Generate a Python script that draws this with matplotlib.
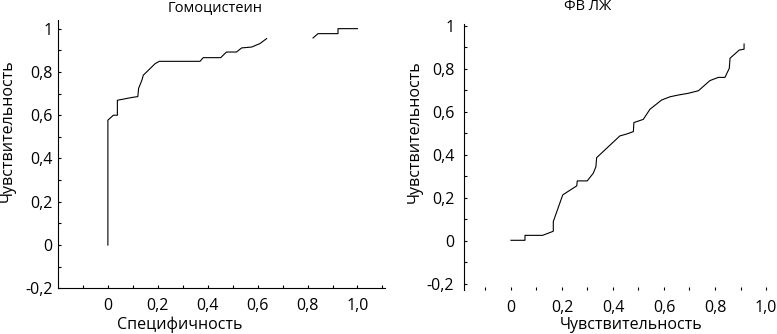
import numpy as np
import matplotlib.pyplot as plt

plt.rcParams["font.family"] = ["Open Sans", "DejaVu Sans"]

# Гомоцистеин (gap in the curve as on the original)
homo_x = [0, 0, 0.022, 0.038, 0.038, 0.096, 0.12, 0.123, 0.136, 0.142, 0.189, 0.206, 0.369, 0.382,
          0.452, 0.475, 0.515, 0.536, 0.576, 0.609, 0.636, np.nan, 0.822, 0.842, 0.922, 0.922, 1.0]
homo_y = [0, 0.577, 0.6, 0.6, 0.669, 0.682, 0.686, 0.724, 0.761, 0.785, 0.838, 0.849, 0.849, 0.866,
          0.866, 0.892, 0.892, 0.911, 0.915, 0.931, 0.954, np.nan, 0.957, 0.977, 0.977, 1.0, 1.0]

# ФВ ЛЖ
fv_x = [0, 0.055, 0.055, 0.124, 0.166, 0.166, 0.203, 0.258, 0.26, 0.299, 0.323, 0.333, 0.336, 0.427,
        0.454, 0.48, 0.482, 0.519, 0.545, 0.591, 0.624, 0.656, 0.695, 0.735, 0.78, 0.813, 0.839,
        0.856, 0.859, 0.878, 0.895, 0.914, 0.914]
fv_y = [0.003, 0.003, 0.026, 0.026, 0.045, 0.09, 0.214, 0.256, 0.279, 0.279, 0.315, 0.345, 0.387, 0.488,
        0.497, 0.508, 0.55, 0.565, 0.612, 0.655, 0.67, 0.678, 0.686, 0.698, 0.745, 0.76, 0.76,
        0.802, 0.849, 0.869, 0.887, 0.891, 0.915]

y_ticks = [-0.2, 0, 0.2, 0.4, 0.6, 0.8, 1.0]
y_tick_labels = ["-0,2", "0", "0,2", "0,4", "0,6", "0,8", "1"]
y_minor = [-0.1, 0.1, 0.3, 0.5, 0.7, 0.9]
x_ticks = [0, 0.2, 0.4, 0.6, 0.8, 1.0]
x_tick_labels = ["0", "0,2", "0,4", "0,6", "0,8", "1,0"]

fig = plt.figure(figsize=(7.77, 3.34), dpi=100)
ax1 = fig.add_axes([0.0746, 0.1368, 0.4208, 0.8033])
ax2 = fig.add_axes([0.5972, 0.1317, 0.3985, 0.7964])

ax1.plot(homo_x, homo_y, color="black", lw=0.8)
ax1.set_xlim(-0.2, 1.11)
ax1.set_ylim(-0.2, 1.04)
ax1.set_xticks(x_ticks, labels=x_tick_labels)
ax1.set_xticks([-0.1, 0.1, 0.3, 0.5, 0.7, 0.9, 1.1], minor=True)
ax1.set_yticks(y_ticks, labels=y_tick_labels)
ax1.set_yticks(y_minor, minor=True)
ax1.spines[["top", "right"]].set_visible(False)
ax1.tick_params(axis="y", which="both", direction="in", length=2.5, width=0.8, pad=4, labelsize=11.5)
ax1.tick_params(axis="x", which="both", direction="in", length=2.5, width=0.8, pad=7, labelsize=11.5)
ax1.set_ylabel("Чувствительность", fontsize=11.5, va="center")
ax1.yaxis.set_label_coords(-0.153, 0.586)
ax1.set_xlabel("Специфичность", fontsize=11.5, va="center")
ax1.xaxis.set_label_coords(0.373, -0.137)
ax1.text(0.48, 1.048, "Гомоцистеин", transform=ax1.transAxes, ha="center", va="center", fontsize=10.5)

ax2.plot(fv_x, fv_y, color="black", lw=0.8)
ax2.set_xlim(-0.184, 1.03)
ax2.set_ylim(-0.228, 1.008)
ax2.set_xticks(x_ticks, labels=x_tick_labels)
ax2.set_xticks([-0.1, 0.1, 0.3, 0.5, 0.7, 0.9], minor=True)
ax2.set_yticks(y_ticks, labels=y_tick_labels)
ax2.set_yticks(y_minor, minor=True)
ax2.spines[["top", "right", "bottom"]].set_visible(False)
ax2.tick_params(axis="y", which="both", direction="in", length=2.5, width=0.8, pad=7, labelsize=11.5)
ax2.tick_params(axis="x", which="both", direction="in", length=2.5, width=0.8, pad=7, labelsize=11.5)
ax2.set_ylabel("Чувствительность", fontsize=11.5, va="center")
ax2.yaxis.set_label_coords(-0.158, 0.596)
ax2.set_xlabel("Чувствительность", fontsize=11.5, va="center")
ax2.xaxis.set_label_coords(0.539, -0.132)
ax2.text(0.40, 1.064, "ФВ ЛЖ", transform=ax2.transAxes, ha="center", va="center", fontsize=10.5)

plt.savefig("out.png", dpi=100)
